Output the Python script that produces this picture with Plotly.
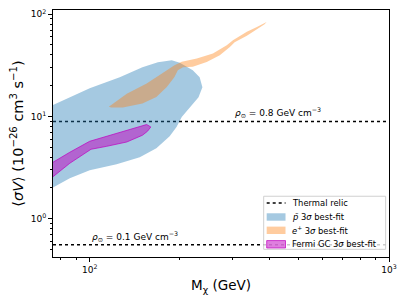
import plotly.graph_objects as go
import numpy as np

# Antiproton 3-sigma best-fit region (closed contour)
pbar_mass = [75.4, 85.8, 100, 126, 150, 169, 188, 200, 221, 233, 238, 231, 216, 203, 195,
             185, 167, 147, 123, 100, 85.8, 75.4]
pbar_sv = [12.9, 15.4, 18.9, 24.2, 30.3, 33.9, 35.5, 33.5, 28.3, 24.2, 19.3, 15.4, 12.3, 9.88, 7.89,
           6.40, 4.88, 3.98, 3.40, 2.97, 2.48, 2.01]

# Positron 3-sigma best-fit region
epos_mass = [115.8, 133, 155, 175, 192, 203, 228, 258, 287, 301, 335, 362, 390,
             384, 335, 305, 294, 272, 246, 221, 205, 197, 192, 181, 167, 150, 129, 118]
epos_sv = [12.4, 16.7, 21.0, 26.3, 31.7, 34.3, 36.8, 41.2, 49.7, 55.7, 67.2, 75.2, 84.1,
           79.9, 61.7, 53.1, 47.9, 39.7, 34.1, 30.6, 30.3, 28.3, 24.3, 19.4, 15.5, 13.4, 12.2, 12.2]

# Fermi GC 3-sigma best-fit region
gc_mass = [75.4, 85.8, 100, 123, 144, 155, 160, 156, 150, 133, 114, 101, 85.8, 75.4]
gc_sv = [3.56, 4.46, 5.71, 6.84, 7.83, 8.33, 7.89, 7.16, 6.54, 5.62, 5.10, 4.77, 3.48, 2.57]

# Thermal relic lines
relic_mass = [75.4, 1000]
relic_high = 8.93   # rho = 0.8 GeV cm^-3
relic_low = 0.556   # rho = 0.1 GeV cm^-3

x_range = [75.4, 1000]
y_range = [0.421, 110]

x_ticks = [100, 1000]
x_ticktext = ["10<sup>2</sup>", "10<sup>3</sup>"]
x_minor = [80, 90, 200, 300, 400, 500, 600, 700, 800, 900]
y_ticks = [1, 10, 100]
y_ticktext = ["10<sup>0</sup>", "10<sup>1</sup>", "10<sup>2</sup>"]
y_minor = [0.5, 0.6, 0.7, 0.8, 0.9, 2, 3, 4, 5, 6, 7, 8, 9, 20, 30, 40, 50, 60, 70, 80, 90]

legend_labels = ["Thermal relic", "<i>p̄</i> 3<i>σ</i> best-fit",
                 "<i>e</i><sup>+</sup> 3<i>σ</i> best-fit", "Fermi GC 3<i>σ</i> best-fit"]

FONT = "DejaVu Sans"
BLUE = "rgba(31,119,180,0.4)"
ORANGE = "rgba(255,127,14,0.4)"
MAG = "rgba(191,0,191,0.5)"
MAG_EDGE = "rgba(191,0,191,0.7)"

fig = go.Figure()

for yv in (relic_high, relic_low):
    fig.add_trace(go.Scatter(x=relic_mass, y=[yv] * 2, mode="lines",
                             line=dict(color="black", dash="dot", width=1.5),
                             showlegend=False, hoverinfo="skip"))

fig.add_trace(go.Scatter(x=pbar_mass, y=pbar_sv, fill="toself", mode="lines",
                         line=dict(width=0, color=BLUE), fillcolor=BLUE, showlegend=False))
fig.add_trace(go.Scatter(x=epos_mass, y=epos_sv, fill="toself", mode="lines",
                         line=dict(width=0, color=ORANGE), fillcolor=ORANGE, showlegend=False))
fig.add_trace(go.Scatter(x=gc_mass, y=gc_sv, fill="toself", mode="lines",
                         line=dict(width=1, color=MAG_EDGE), fillcolor=MAG, showlegend=False))

fig.add_annotation(x=np.log10(300.5), y=np.log10(relic_high), xref="x", yref="y",
                   text="<i>ρ</i><sub>⊙</sub> = 0.8 GeV cm<sup>−3</sup>", showarrow=False,
                   xanchor="left", yanchor="bottom", yshift=0,
                   font=dict(family=FONT, size=9, color="black"))
fig.add_annotation(x=2.0, y=np.log10(relic_low), xref="x", yref="y",
                   text="<i>ρ</i><sub>⊙</sub> = 0.1 GeV cm<sup>−3</sup>", showarrow=False,
                   xanchor="left", yanchor="bottom", yshift=0,
                   font=dict(family=FONT, size=9, color="black"))

# Legend drawn manually (matplotlib-style compact legend)
fig.add_shape(type="rect", xref="paper", yref="paper", x0=0.627, x1=0.990, y0=0.031, y1=0.246,
              line=dict(color="#d0d0d0", width=1), fillcolor="rgba(255,255,255,0.8)", layer="above")
item_y = [0.219, 0.162, 0.108, 0.0515]
sx0, sx1, tx = 0.636, 0.692, 0.704
fig.add_shape(type="line", xref="paper", yref="paper", x0=sx0, x1=sx1, y0=item_y[0], y1=item_y[0],
              line=dict(color="black", dash="dot", width=1.5), layer="above")
for yy, col, edge in zip(item_y[1:], [BLUE, ORANGE, MAG], [None, None, MAG_EDGE]):
    fig.add_shape(type="rect", xref="paper", yref="paper", x0=sx0, x1=sx1,
                  y0=yy - 0.015, y1=yy + 0.015, fillcolor=col,
                  line=dict(width=1 if edge else 0, color=edge or col), layer="above")
for yy, lab in zip(item_y, legend_labels):
    fig.add_annotation(x=tx, y=yy, xref="paper", yref="paper", text=lab, showarrow=False,
                       xanchor="left", yanchor="middle",
                       font=dict(family=FONT, size=8.4, color="black"))

axis_common = dict(showline=True, mirror=True, linecolor="black", linewidth=1,
                   ticks="outside", ticklen=4, tickcolor="black", showgrid=False,
                   zeroline=False, automargin=False, ticklabeloverflow="allow",
                   tickfont=dict(family=FONT, size=9, color="black"))

fig.update_xaxes(type="log", range=[np.log10(x_range[0]), np.log10(x_range[1])],
                 tickmode="array", tickvals=x_ticks, ticktext=x_ticktext,
                 minor=dict(tickmode="array", tickvals=x_minor, ticks="outside", ticklen=2,
                            tickcolor="black", showgrid=False),
                 title=dict(text="M<sub>χ</sub> (GeV)", font=dict(family=FONT, size=13.5, color="black"),
                            standoff=6),
                 **axis_common)
fig.update_yaxes(type="log", range=[np.log10(y_range[0]), np.log10(y_range[1])],
                 tickmode="array", tickvals=y_ticks, ticktext=y_ticktext,
                 minor=dict(tickmode="array", tickvals=y_minor, ticks="outside", ticklen=2,
                            tickcolor="black", showgrid=False),
                 title=dict(text="⟨<i>σV</i>⟩ (10<sup>−26</sup> cm<sup>3</sup> s<sup>−1</sup>)",
                            font=dict(family=FONT, size=14.5, color="black"), standoff=4),
                 **axis_common)

# The page body adds an 8 px margin, so the figure is sized/margined to compensate.
fig.update_layout(
    width=399, height=297,
    margin=dict(l=45, r=18, t=2, b=48),
    plot_bgcolor="white", paper_bgcolor="white",
    font=dict(family=FONT, size=9, color="black"),
    showlegend=False,
)

fig.write_html("out.html")
